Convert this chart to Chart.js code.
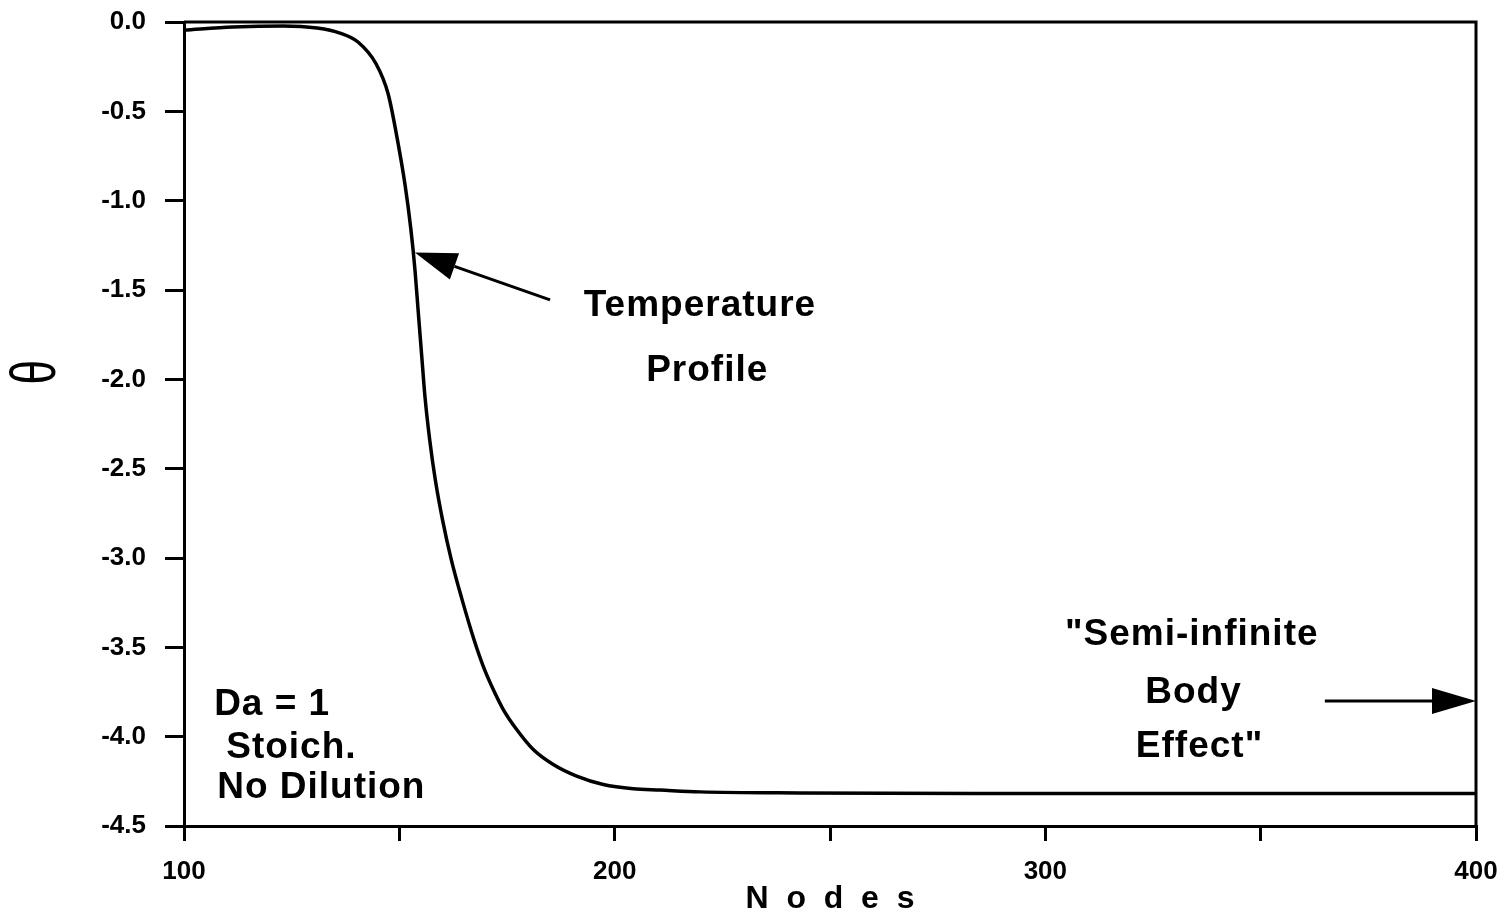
<!DOCTYPE html>
<html>
<head>
<meta charset="utf-8">
<script src="https://cdn.jsdelivr.net/npm/chart.js@4/dist/chart.umd.min.js"></script>
<style>
  html, body { margin: 0; padding: 0; background: #fff; }
  #wrap { width: 1506px; height: 922px; }
</style>
</head>
<body>
<div id="wrap"><canvas id="c" width="1506" height="922"></canvas></div>
<script>
// Temperature profile along the grid nodes
const nodes = [100, 111.4, 123, 130.9, 136.2, 140.4, 144.62, 147.41, 149.73, 151.36, 152.64, 153.63, 154.4, 155.17, 155.95, 157.05, 158.35, 160.02, 162.06, 164.57, 167.33, 169.49, 171.81, 174.14, 177.25, 181.1, 185.74, 191.18, 197.35, 204.32, 210.52, 219.8, 243, 289.5, 400];
const theta = [-0.045, -0.028, -0.022, -0.034, -0.062, -0.112, -0.235, -0.403, -0.682, -0.917, -1.152, -1.387, -1.625, -1.86, -2.097, -2.338, -2.562, -2.785, -3.009, -3.233, -3.456, -3.606, -3.736, -3.848, -3.96, -4.072, -4.156, -4.221, -4.268, -4.292, -4.299, -4.309, -4.315, -4.318, -4.318];

// Axis ticks
const xTickLabels = [100, 200, 300, 400];
const yTicks = [0, -0.5, -1, -1.5, -2, -2.5, -3, -3.5, -4, -4.5];

// Callout texts
const profileLabel = ['Temperature', 'Profile'];
const caseLabel = ['Da = 1', 'Stoich.', 'No Dilution'];
const bodyLabel = ['"Semi-infinite', 'Body', 'Effect"'];

const tickFont = { family: "'Liberation Sans', Arial, sans-serif", size: 26, weight: 'bold' };
const noteFont = "bold 37px 'Liberation Sans', Arial, sans-serif";

function arrow(ctx, x0, y0, x1, y1, headLen, headHalf) {
  const a = Math.atan2(y1 - y0, x1 - x0);
  const bx = x1 - headLen * Math.cos(a), by = y1 - headLen * Math.sin(a);
  ctx.beginPath();
  ctx.moveTo(x0, y0);
  ctx.lineTo(bx, by);
  ctx.lineWidth = 3;
  ctx.stroke();
  ctx.beginPath();
  ctx.moveTo(x1, y1);
  ctx.lineTo(bx - headHalf * Math.sin(a), by + headHalf * Math.cos(a));
  ctx.lineTo(bx + headHalf * Math.sin(a), by - headHalf * Math.cos(a));
  ctx.closePath();
  ctx.fill();
}

const notes = {
  id: 'notes',
  afterDatasetsDraw(chart) {
    const { ctx, chartArea: ca, scales: { x, y } } = chart;
    ctx.save();
    ctx.strokeStyle = '#000';
    ctx.fillStyle = '#000';
    ctx.lineCap = 'butt';

    // frame: top and right edges
    ctx.lineWidth = 3;
    ctx.beginPath();
    ctx.moveTo(ca.left, ca.top);
    ctx.lineTo(ca.right, ca.top);
    ctx.lineTo(ca.right, ca.bottom);
    ctx.stroke();

    ctx.font = noteFont;
    ctx.letterSpacing = '1px';
    ctx.textBaseline = 'middle';

    // Temperature profile callout
    ctx.textAlign = 'center';
    ctx.fillText(profileLabel[0], x.getPixelForValue(219.8), y.getPixelForValue(-1.59));
    ctx.fillText(profileLabel[1], x.getPixelForValue(221.5), y.getPixelForValue(-1.955));
    arrow(ctx, x.getPixelForValue(185), y.getPixelForValue(-1.555),
               x.getPixelForValue(153.6), y.getPixelForValue(-1.29), 42, 14);

    // case parameters
    ctx.textAlign = 'left';
    ctx.fillText(caseLabel[0], x.getPixelForValue(107.0), y.getPixelForValue(-3.82));
    ctx.fillText(caseLabel[1], x.getPixelForValue(109.8), y.getPixelForValue(-4.06));
    ctx.fillText(caseLabel[2], x.getPixelForValue(107.7), y.getPixelForValue(-4.285));

    // semi-infinite body callout
    ctx.textAlign = 'center';
    ctx.fillText(bodyLabel[0], x.getPixelForValue(334.0), y.getPixelForValue(-3.43));
    ctx.fillText(bodyLabel[1], x.getPixelForValue(334.4), y.getPixelForValue(-3.755));
    ctx.fillText(bodyLabel[2], x.getPixelForValue(335.8), y.getPixelForValue(-4.055));
    arrow(ctx, x.getPixelForValue(364.9), y.getPixelForValue(-3.80),
               x.getPixelForValue(400), y.getPixelForValue(-3.80), 44, 13);

    // y-axis symbol, turned with the axis
    ctx.letterSpacing = '0px';
    ctx.translate(36, y.getPixelForValue(-1.96));
    ctx.rotate(-Math.PI / 2);
    ctx.scale(0.7, 1);
    ctx.font = "63px 'Liberation Sans', Arial, sans-serif";
    ctx.textAlign = 'center';
    ctx.fillText('θ', 0, 2);
    ctx.restore();
  }
};

new Chart(document.getElementById('c'), {
  type: 'line',
  data: {
    datasets: [{
      data: nodes.map((n, i) => ({ x: n, y: theta[i] })),
      borderColor: '#000',
      borderWidth: 3.5,
      pointRadius: 0,
      fill: false,
      cubicInterpolationMode: 'monotone'
    }]
  },
  options: {
    responsive: false,
    animation: false,
    events: [],
    layout: { padding: { top: 22, right: 30, left: 0, bottom: 0 } },
    plugins: { legend: { display: false }, tooltip: { enabled: false } },
    scales: {
      x: {
        type: 'linear',
        min: 100, max: 400,
        afterFit(s) { s.height = 96; s.paddingLeft = 0; s.paddingRight = 0; },
        border: { display: true, color: '#000', width: 3 },
        grid: { drawOnChartArea: false, drawTicks: true, tickLength: 15, tickWidth: 3, tickColor: '#000', lineWidth: 3, color: '#000' },
        ticks: {
          stepSize: 50,
          color: '#000',
          font: tickFont,
          padding: 15,
          maxRotation: 0,
          autoSkip: false,
          callback: v => xTickLabels.includes(v) ? String(v) : ''
        },
        title: {
          display: true,
          text: 'N  o  d  e  s',
          color: '#000',
          font: { family: "'Liberation Sans', Arial, sans-serif", size: 32, weight: 'bold' },
          padding: { top: 0, bottom: 4 }
        }
      },
      y: {
        type: 'linear',
        min: -4.5, max: 0,
        afterFit(s) { s.width = 184; s.paddingTop = 0; s.paddingBottom = 0; },
        afterBuildTicks(s) { s.ticks = yTicks.map(v => ({ value: v })); },
        border: { display: true, color: '#000', width: 3 },
        grid: { drawOnChartArea: false, drawTicks: true, tickLength: 19, tickWidth: 3, tickColor: '#000', lineWidth: 3, color: '#000' },
        ticks: {
          color: '#000',
          font: tickFont,
          padding: 19,
          autoSkip: false,
          callback: v => v.toFixed(1)
        }
      }
    }
  },
  plugins: [notes]
});
</script>
</body>
</html>
